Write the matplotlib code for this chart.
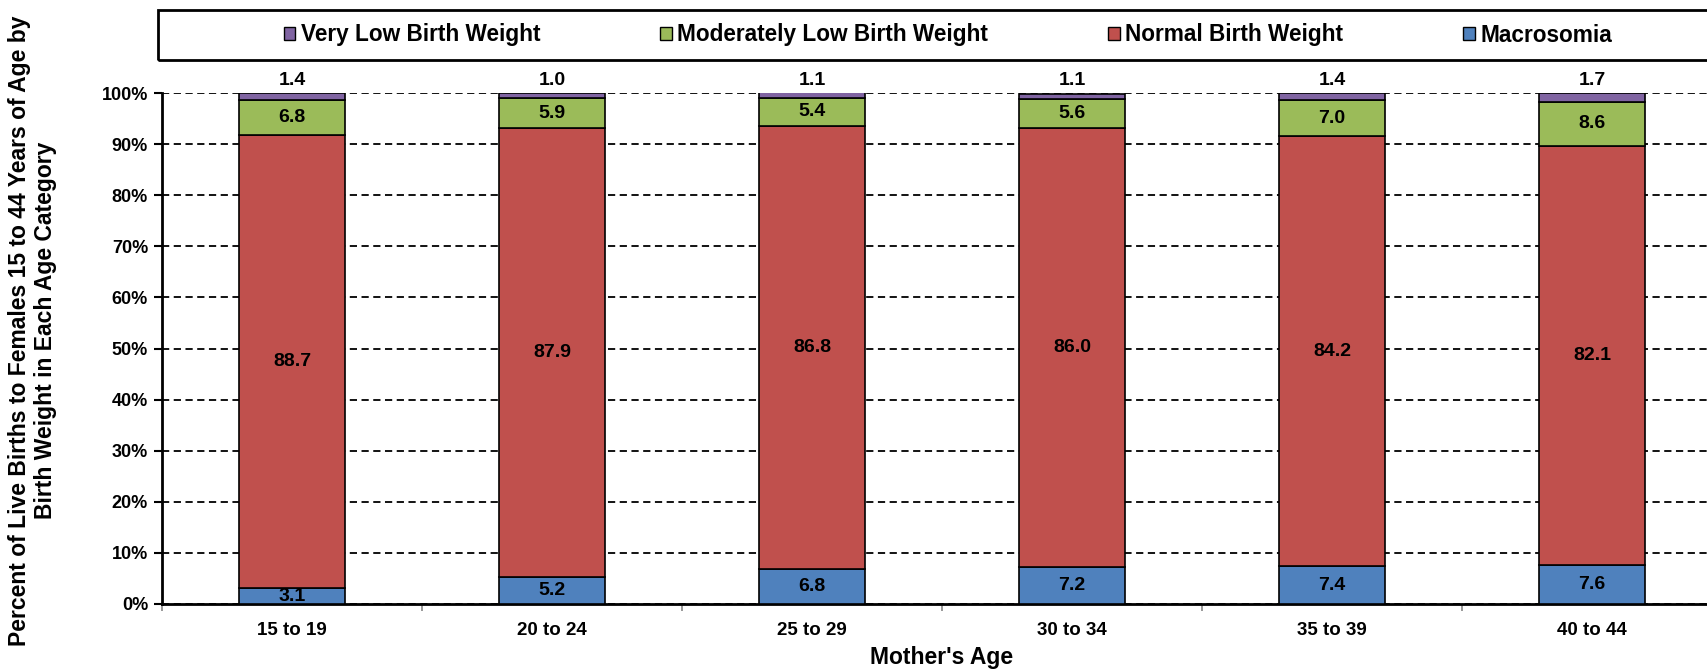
import numpy as np
import matplotlib.pyplot as plt
from matplotlib.patches import Patch, Rectangle

plt.rcParams['font.family'] = ['Liberation Sans', 'DejaVu Sans']
plt.rcParams['font.weight'] = 'bold'

# Daten (Prozent)
age_groups = ["15 to 19", "20 to 24", "25 to 29", "30 to 34", "35 to 39", "40 to 44"]
macrosomia = [3.1, 5.2, 6.8, 7.2, 7.4, 7.6]
normal_bw = [88.7, 87.9, 86.8, 86.0, 84.2, 82.1]
moderately_low_bw = [6.8, 5.9, 5.4, 5.6, 7.0, 8.6]
very_low_bw = [1.4, 1.0, 1.1, 1.1, 1.4, 1.7]

series = [
    ("Macrosomia", macrosomia, "#4F81BD"),
    ("Normal Birth Weight", normal_bw, "#C0504D"),
    ("Moderately Low Birth Weight", moderately_low_bw, "#9BBB59"),
    ("Very Low Birth Weight", very_low_bw, "#8064A2"),
]

W, H = 1707, 669
fig = plt.figure(figsize=(W / 100, H / 100), dpi=100)
# Achse ragt rechts ueber den Bildrand hinaus (wie im Original)
ax = fig.add_axes([162 / W, (H - 604) / H, 1560 / W, 511 / H])

x = np.arange(len(age_groups))
bottom = np.zeros(len(age_groups))
for name, vals, color in series:
    vals = np.array(vals)
    ax.bar(x, vals, width=0.404, bottom=bottom, color=color,
           edgecolor="black", linewidth=1.2, zorder=3, label=name)
    if name == "Very Low Birth Weight":
        # Beschriftung ueber dem Balken
        for xi, v in zip(x, vals):
            ax.annotate(f"{v:.1f}", xy=(xi, 100), xytext=(0, 9),
                        textcoords="offset points", ha="center", va="center",
                        fontsize=14, fontweight="bold", annotation_clip=False)
    else:
        for xi, b, v in zip(x, bottom, vals):
            ax.text(xi, b + v / 2, f"{v:.1f}", ha="center", va="center",
                    fontsize=14, fontweight="bold", zorder=4)
    bottom = bottom + vals

ax.set_xlim(-0.5, len(age_groups) - 0.5)
ax.set_ylim(0, 100)
ax.set_yticks(np.arange(0, 101, 10))
ax.set_yticklabels([f"{v}%" for v in range(0, 101, 10)], fontsize=13)
ax.set_xticks(x)
ax.set_xticklabels(age_groups, fontsize=13.5)
ax.tick_params(axis="x", which="major", length=0, pad=13)
ax.set_xticks(np.arange(-0.5, len(age_groups), 1), minor=True)
ax.tick_params(axis="x", which="minor", length=5, color="#888888", width=1.2)
ax.tick_params(axis="y", length=6, width=1.5, pad=4)

ax.yaxis.grid(True, linestyle=(0, (4, 2.5)), color="black", linewidth=1.3, zorder=0)
ax.set_axisbelow(True)
for s in ["top", "right"]:
    ax.spines[s].set_visible(False)
ax.spines["left"].set_linewidth(2)
ax.spines["bottom"].set_linewidth(2)

ax.set_xlabel("Mother's Age", fontsize=16.5, fontweight="bold", labelpad=5)
ax.set_ylabel("Percent of Live Births to Females 15 to 44 Years of Age by\nBirth Weight in Each Age Category",
              fontsize=16.5, fontweight="bold", va="center")
ax.yaxis.set_label_coords(-0.083, 0.535)

# Legendenrahmen und Legende
fig.patches.append(Rectangle((158 / W, (H - 60) / H), 1.2, 50 / H, transform=fig.transFigure,
                             fill=False, edgecolor="black", linewidth=2))
handles = [Patch(facecolor=c, edgecolor="black", linewidth=1) for _, _, c in series[::-1]]
labels = [n for n, _, _ in series[::-1]]
fig.legend(handles, labels, loc="center", bbox_to_anchor=(948 / W, (H - 35) / H), ncol=4,
           frameon=False, handlelength=0.5, handleheight=0.5,
           handletextpad=0.25, columnspacing=5.3, prop={"weight": "bold", "size": 16.3})

fig.savefig("out.png", dpi=100)
